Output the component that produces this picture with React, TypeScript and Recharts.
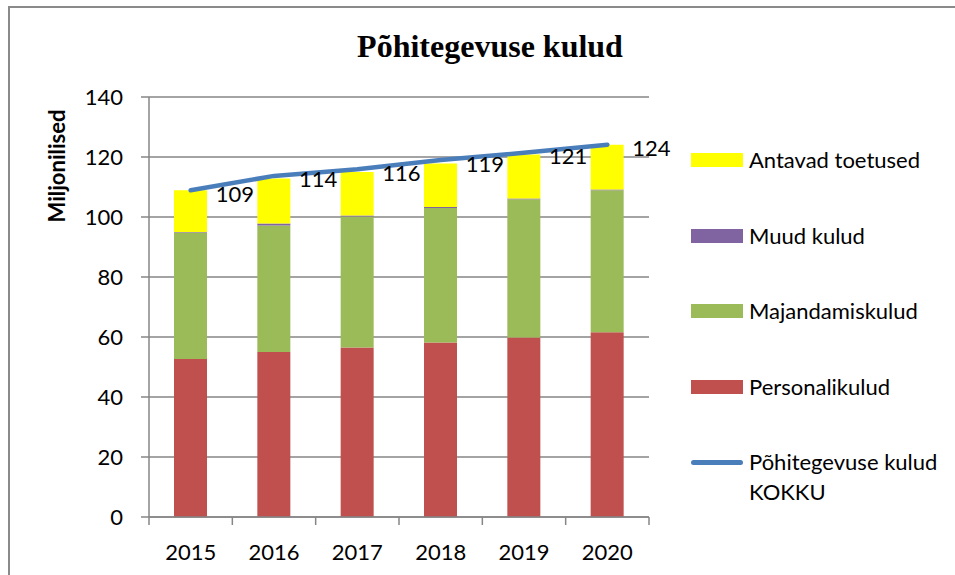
import React from 'react';
import {
  ComposedChart,
  Bar,
  Line,
  XAxis,
  YAxis,
  CartesianGrid,
  LabelList,
  Legend,
} from 'recharts';

const years = ['2015', '2016', '2017', '2018', '2019', '2020'];
const personalikulud = [52.7, 55.0, 56.5, 58.2, 59.8, 61.6];
const majandamiskulud = [42.1, 42.2, 43.7, 44.8, 46.1, 47.3];
const muudKulud = [0.2, 0.6, 0.3, 0.3, 0.3, 0.3];
const antavadToetused = [13.9, 15.0, 14.5, 14.5, 14.6, 14.9];
const kokku = [108.9, 113.7, 115.9, 119.0, 121.4, 124.1];
const yTicks = [0, 20, 40, 60, 80, 100, 120, 140];

const legendItems = [
  { name: 'Antavad toetused', color: '#FFFF00', type: 'rect' },
  { name: 'Muud kulud', color: '#8064A2', type: 'rect' },
  { name: 'Majandamiskulud', color: '#9BBB59', type: 'rect' },
  { name: 'Personalikulud', color: '#C0504D', type: 'rect' },
  { name: 'Põhitegevuse kulud KOKKU', color: '#4A7EBB', type: 'line' },
];

const data = years.map((year, i) => ({
  year,
  personal: personalikulud[i],
  majandamis: majandamiskulud[i],
  muud: muudKulud[i],
  toetused: antavadToetused[i],
  kokku: kokku[i],
}));

const FONT = 'Lato, Carlito, "Open Sans", sans-serif';
const GRID = '#868686';
const PLOT_W = 500;

function TotalLabel(props: any) {
  const { x, y, value } = props;
  return (
    <text
      x={x + 25}
      y={y + 3}
      dominantBaseline="central"
      fontFamily={FONT}
      fontSize={22}
      fill="#000"
    >
      {Math.round(value)}
    </text>
  );
}

// year label plus the tick marks on the category boundaries
function YearTick(props: any) {
  const { x, y, payload, index, visibleTicksCount } = props;
  const half = payload && payload.offset ? payload.offset : PLOT_W / years.length / 2;
  const top = y - 25;
  return (
    <g>
      <line x1={x - half} x2={x - half} y1={top} y2={top + 8} stroke={GRID} strokeWidth={1.5} />
      {index === visibleTicksCount - 1 && (
        <line x1={x + half} x2={x + half} y1={top} y2={top + 8} stroke={GRID} strokeWidth={1.5} />
      )}
      <text x={x} y={y} dy={18} textAnchor="middle" fontFamily={FONT} fontSize={22} fill="#000">
        {payload.value}
      </text>
    </g>
  );
}

function ChartLegend() {
  return (
    <div style={{ fontFamily: FONT, fontSize: 22, color: '#000' }}>
      {legendItems.map((item) => (
        <div
          key={item.name}
          style={{ display: 'flex', alignItems: 'flex-start', height: 75.5 }}
        >
          <div style={{ width: 52, height: 30, display: 'flex', alignItems: 'center', marginRight: 6 }}>
            {item.type === 'rect' ? (
              <div style={{ width: 52, height: 14, background: item.color }} />
            ) : (
              <div style={{ width: 52, height: 5, borderRadius: 3, background: item.color }} />
            )}
          </div>
          <div style={{ lineHeight: '30px', width: 200 }}>
            {item.type === 'line' ? (
              <>
                Põhitegevuse kulud
                <br />
                KOKKU
              </>
            ) : (
              item.name
            )}
          </div>
        </div>
      ))}
    </div>
  );
}

export default function App() {
  return (
    <div
      style={{
        position: 'absolute',
        left: 0,
        top: 0,
        width: 955,
        height: 575,
        background: '#fff',
        overflow: 'hidden',
      }}
    >
      <div
        style={{
          position: 'absolute',
          left: 8,
          top: 6,
          width: 990,
          height: 600,
          borderLeft: '2px solid #8a8a8a',
          borderTop: '2px solid #8a8a8a',
        }}
      />
      <div style={{ position: 'absolute', left: 0, top: 0 }}>
        <ComposedChart
          width={955}
          height={575}
          data={data}
          margin={{ top: 97, right: 306, bottom: 0, left: 0 }}
        >
          <text
            x={490}
            y={57}
            textAnchor="middle"
            fontFamily='"Liberation Serif", "Times New Roman", serif'
            fontWeight="bold"
            fontSize={32}
            fill="#000"
          >
            Põhitegevuse kulud
          </text>
          <CartesianGrid vertical={false} stroke={GRID} strokeWidth={1.5} />
          <XAxis
            dataKey="year"
            tickLine={false}
            tickSize={0}
            tickMargin={25}
            axisLine={{ stroke: GRID, strokeWidth: 1.5 }}
            tick={<YearTick />}
            height={58}
          />
          <YAxis
            domain={[0, 140]}
            ticks={yTicks}
            width={149}
            tickSize={8}
            tickMargin={18}
            tickLine={{ stroke: GRID, strokeWidth: 1.5 }}
            axisLine={{ stroke: GRID, strokeWidth: 1.5 }}
            tick={{ fontFamily: FONT, fontSize: 22, fill: '#000' }}
            label={{
              content: () => (
                <text
                  x={65}
                  y={166}
                  transform="rotate(-90 65 166)"
                  textAnchor="middle"
                  fontFamily={FONT}
                  fontWeight="bold"
                  fontSize={22}
                  fill="#000"
                >
                  Miljonilised
                </text>
              ),
            }}
          />
          <Bar dataKey="personal" stackId="a" fill="#C0504D" barSize={33} isAnimationActive={false} />
          <Bar dataKey="majandamis" stackId="a" fill="#9BBB59" barSize={33} isAnimationActive={false} />
          <Bar dataKey="muud" stackId="a" fill="#8064A2" barSize={33} isAnimationActive={false} />
          <Bar dataKey="toetused" stackId="a" fill="#FFFF00" barSize={33} isAnimationActive={false} />
          <Line
            dataKey="kokku"
            stroke="#4A7EBB"
            strokeWidth={4.5}
            strokeLinecap="round"
            dot={false}
            activeDot={false}
            isAnimationActive={false}
          >
            <LabelList dataKey="kokku" content={TotalLabel} />
          </Line>
          <Legend
            layout="vertical"
            align="center"
            verticalAlign="middle"
            content={ChartLegend}
            wrapperStyle={{ position: 'absolute', left: 691, top: 145, width: 264, transform: 'none' }}
          />
        </ComposedChart>
      </div>
    </div>
  );
}
